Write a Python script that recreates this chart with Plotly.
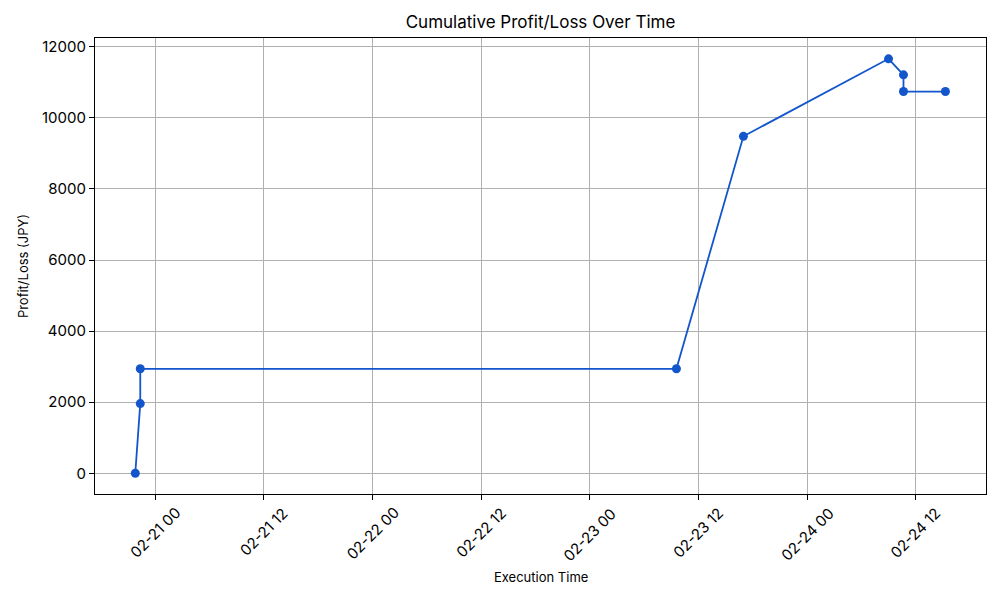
import plotly.graph_objects as go

times = ["2025-02-20 21:47", "2025-02-20 22:20", "2025-02-20 22:20",
         "2025-02-23 09:34", "2025-02-23 16:58", "2025-02-24 09:00",
         "2025-02-24 10:39", "2025-02-24 10:39", "2025-02-24 15:17"]
pnl = [0, 1960, 2940, 2940, 9480, 11660, 11210, 10740, 10740]

tick_vals = ["2025-02-21 00:00", "2025-02-21 12:00", "2025-02-22 00:00", "2025-02-22 12:00",
             "2025-02-23 00:00", "2025-02-23 12:00", "2025-02-24 00:00", "2025-02-24 12:00"]
tick_text = ["02-21 00", "02-21 12", "02-22 00", "02-22 12",
             "02-23 00", "02-23 12", "02-24 00", "02-24 12"]
y_ticks = [0, 2000, 4000, 6000, 8000, 10000, 12000]

FONT = "Inter"
LINE = "#1356cc"

fig = go.Figure()
fig.add_trace(go.Scatter(
    x=times, y=pnl, mode="lines+markers",
    line=dict(color=LINE, width=1.8),
    marker=dict(color=LINE, size=9),
    showlegend=False,
))

for v, t in zip(tick_vals, tick_text):
    fig.add_annotation(x=v, y=0, xref="x", yref="paper", text=t, showarrow=False,
                       textangle=-45, xanchor="center", yanchor="top", yshift=-7,
                       font=dict(family=FONT, size=15, color="#000"))

fig.add_annotation(x=0.5, y=0, xref="paper", yref="paper", text="Execution Time",
                   showarrow=False, xanchor="center", yanchor="middle", yshift=-83,
                   font=dict(family=FONT, size=13, color="#000"))

fig.update_layout(
    width=1000, height=600,
    margin=dict(l=95, r=14, t=38, b=106),
    paper_bgcolor="white", plot_bgcolor="white",
    title=dict(text="Cumulative Profit/Loss Over Time", x=0.5, xanchor="center",
               y=1 - 22 / 600, yanchor="middle", xref="paper",
               font=dict(family=FONT, size=17, color="#000")),
    font=dict(family=FONT, color="#000"),
)
fig.update_xaxes(
    type="date", range=["2025-02-20 17:20", "2025-02-24 19:46"],
    tickvals=tick_vals, ticktext=["" for _ in tick_vals],
    showgrid=True, gridcolor="#b0b0b0", gridwidth=1,
    showline=True, linecolor="#000", linewidth=1.2, mirror=True,
    ticks="outside", ticklen=5, tickcolor="#000", zeroline=False,
)
fig.update_yaxes(
    range=[-583, 12246], tickvals=y_ticks, ticktext=[str(v) for v in y_ticks],
    showgrid=True, gridcolor="#b0b0b0", gridwidth=1,
    showline=True, linecolor="#000", linewidth=1.2, mirror=True,
    ticks="outside", ticklen=5, tickcolor="#000", zeroline=False,
    tickfont=dict(family=FONT, size=15, color="#000"),
    title=dict(text="Profit/Loss (JPY)", font=dict(family=FONT, size=13, color="#000"), standoff=10),
)
fig.write_html("out.html")
